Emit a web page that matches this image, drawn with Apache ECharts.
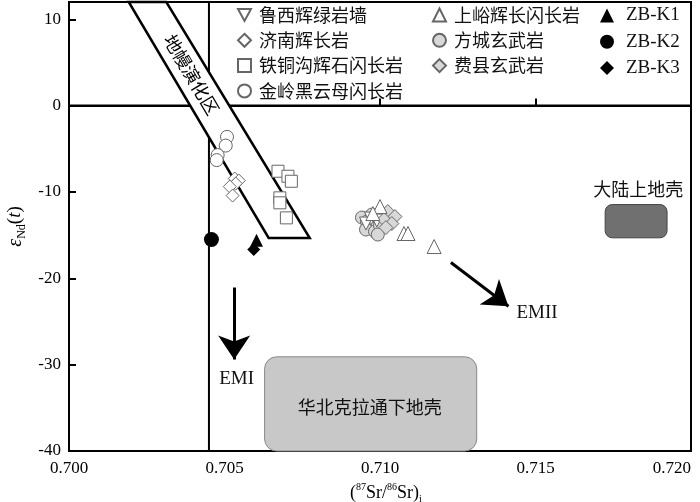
<!DOCTYPE html>
<html>
<head>
<meta charset="utf-8">
<script src="https://cdn.jsdelivr.net/npm/echarts@6/dist/echarts.min.js"></script>
<style>
html, body { margin: 0; padding: 0; background: #fff; }
#main { width: 700px; height: 502px; }
</style>
</head>
<body>
<div id="main"></div>
<script>
// 坐标轴范围 / 刻度
var xTicks = [0.700, 0.705, 0.710, 0.715, 0.720];
var yTicks = [-40, -30, -20, -10, 0, 10];
var yTop = 12;

// 各岩体数据 [87Sr/86Sr, εNd(t)]
var luxiDyke = [[0.70971, -13.08], [0.70990, -13.31], [0.70955, -13.66]];          // 鲁西辉绿岩墙
var jinanGabbro = [[0.70533, -8.45], [0.70546, -8.68], [0.70536, -9.03], [0.70517, -9.38], [0.70526, -10.42]]; // 济南辉长岩
var tietonggou = [[0.70672, -7.60], [0.70704, -8.18], [0.70715, -8.76], [0.70678, -10.68], [0.70678, -11.26], [0.70699, -13.0]]; // 铁铜沟
var jinling = [[0.70508, -3.62], [0.70504, -4.63], [0.70478, -5.73], [0.70475, -6.31]]; // 金岭
var shangyu = [[0.71000, -11.69], [0.70977, -12.50], [0.71077, -14.81], [0.71090, -14.81], [0.71174, -16.32]]; // 上峪
var fangcheng = [[0.70942, -12.96], [0.70974, -12.62], [0.70958, -13.43], [0.70967, -14.12], [0.70955, -14.35], [0.70984, -14.58], [0.71000, -13.89], [0.70993, -14.93]]; // 方城
var feixian = [[0.71025, -12.27], [0.71048, -12.85], [0.71013, -13.19], [0.71038, -13.66], [0.71019, -14.12]]; // 费县
var zbk1 = [[0.70603, -15.59]];
var zbk2 = [[0.70458, -15.51]];
var zbk3 = [[0.70594, -16.67]];

// 辅助线、地幔演化区、端元
var vLine = [[0.7045, -40], [0.7045, 12]];
var zeroLine = [[0.700, 0], [0.720, 0]];
var bandCorners = [[0.70192, 12], [0.70313, 12], [0.70774, -15.33], [0.70642, -15.33]];
var bandLabel = [[0.70394, 3.59]];
var crustBoxes = [[0.70629, -29.09, 0.71311, -40], [0.71724, -11.46, 0.71923, -15.31]];
var annoPos = [[0.70967, -34.9], [0.71830, -9.66], [0.70539, -31.66], [0.71505, -24.02]];
var annoText = ['华北克拉通下地壳', '大陆上地壳', 'EMI', 'EMII'];
var arrows = [[[0.70531, -21.06], [0.70531, -29.4]], [[0.71228, -18.17], [0.71413, -23.23]]];

var cjk = 'Noto Sans CJK SC';
var serif = 'Liberation Serif';
var hollow = { color: '#fff', borderColor: '#666', borderWidth: 1, opacity: 1 };
var grey = { color: '#d8d8d8', borderColor: '#666', borderWidth: 1, opacity: 1 };
var black = { color: '#000', opacity: 1 };

function renderBand(params, api) {
	var pts = bandCorners.map(function (p) { return api.coord(p); });
	var c = api.coord([api.value(0), api.value(1)]);
	var ang = Math.atan2(pts[3][1] - pts[0][1], pts[3][0] - pts[0][0]);
	return {
		type: 'group',
		children: [{
			type: 'polygon',
			shape: { points: pts },
			style: { fill: '#fff', stroke: '#000', lineWidth: 2.5 }
		}, {
			type: 'text',
			x: c[0], y: c[1],
			rotation: -ang,
			style: { text: '地幔演化区', font: '18px "' + cjk + '"', fill: '#000', align: 'center', verticalAlign: 'middle' }
		}]
	};
}

function renderBox(params, api) {
	var p1 = api.coord([api.value(0), api.value(1)]);
	var p2 = api.coord([api.value(2), api.value(3)]);
	var fills = ['#c8c8c8', '#707070'];
	var strokes = ['#888', '#444'];
	var radius = [12, 7];
	var i = params.dataIndex;
	return {
		type: 'rect',
		shape: { x: p1[0], y: p1[1], width: p2[0] - p1[0], height: p2[1] - p1[1], r: radius[i] },
		style: { fill: fills[i], stroke: strokes[i], lineWidth: 1 }
	};
}

function renderAnno(params, api) {
	var c = api.coord([api.value(0), api.value(1)]);
	var i = params.dataIndex;
	var f = i < 2 ? '18px "' + cjk + '"' : '19px "' + serif + '"';
	return {
		type: 'text', x: c[0], y: c[1],
		style: { text: annoText[i], font: f, fill: '#111', align: 'center', verticalAlign: 'middle' }
	};
}

var myChart = echarts.init(document.getElementById('main'));

var legendText = { fontFamily: cjk, fontSize: 18, color: '#111', lineHeight: 16, padding: [0, 0, 0, 3] };

var option = {
	animation: false,
	grid: {
		left: 69, right: 9, top: 2, bottom: 51, outerBoundsMode: 'none', containLabel: false,
		show: true, borderColor: '#000', borderWidth: 2
	},
	legend: [{
		data: [{ name: '鲁西辉绿岩墙', icon: 'path://M0,0 L12,0 L6,11 Z' }, '济南辉长岩', '铁铜沟辉石闪长岩', '金岭黑云母闪长岩'],
		orient: 'vertical', left: 237, top: 6, padding: 0, itemGap: 7.3,
		itemWidth: 13, itemHeight: 13, textStyle: legendText
	}, {
		data: ['上峪辉长闪长岩', '方城玄武岩', '费县玄武岩'],
		orient: 'vertical', left: 432, top: 6, padding: 0, itemGap: 7.3,
		itemWidth: 13, itemHeight: 13, textStyle: legendText
	}, {
		data: ['ZB-K1', 'ZB-K2', 'ZB-K3'],
		orient: 'vertical', left: 600, top: 6, padding: 0, itemGap: 7.3,
		itemWidth: 14, itemHeight: 14,
		textStyle: { fontFamily: serif, fontSize: 19, color: '#111', lineHeight: 16, padding: [0, 0, 0, 7] }
	}],
	xAxis: {
		type: 'value',
		min: xTicks[0], max: xTicks[xTicks.length - 1], interval: xTicks[1] - xTicks[0],
		name: '({sup|87}Sr/{sup|86}Sr){sub|i}',
		nameLocation: 'middle', nameGap: 27,
		nameTextStyle: {
			fontFamily: serif, fontSize: 18, color: '#000', lineHeight: 22, padding: [0, 0, 0, 12],
			rich: {
				sup: { fontFamily: serif, fontSize: 10, color: '#000', verticalAlign: 'top', lineHeight: 10 },
				sub: { fontFamily: serif, fontSize: 10, color: '#000', verticalAlign: 'bottom', lineHeight: 10 }
			}
		},
		axisLine: { lineStyle: { color: '#000', width: 2 } },
		axisTick: { inside: true, length: 7, lineStyle: { color: '#000', width: 2 } },
		axisLabel: {
			fontFamily: serif, fontSize: 17, color: '#000', margin: 9, alignMaxLabel: 'right',
			formatter: function (v) { return v.toFixed(3); }
		},
		splitLine: { show: false }
	},
	yAxis: {
		type: 'value',
		min: yTicks[0], max: yTop, interval: yTicks[1] - yTicks[0],
		name: '{e|ε}{sub|Nd}({i|t})',
		nameLocation: 'middle', nameRotate: 90, nameGap: 36,
		nameTextStyle: {
			fontFamily: serif, fontSize: 19, color: '#000', lineHeight: 24,
			rich: {
				e: { fontFamily: serif, fontSize: 20, fontStyle: 'italic', color: '#000', lineHeight: 24 },
				sub: { fontFamily: serif, fontSize: 12, color: '#000', verticalAlign: 'bottom', lineHeight: 12 },
				i: { fontFamily: serif, fontSize: 19, fontStyle: 'italic', color: '#000', lineHeight: 24 }
			}
		},
		axisLine: { lineStyle: { color: '#000', width: 2 } },
		axisTick: { inside: true, length: 7, lineStyle: { color: '#000', width: 2 } },
		axisLabel: { fontFamily: serif, fontSize: 17, color: '#000', margin: 8, showMaxLabel: false },
		splitLine: { show: false }
	},
	series: [{
		type: 'line', data: vLine, symbol: 'none', silent: true,
		lineStyle: { color: '#000', width: 2 }, z: 1
	}, {
		type: 'line', data: zeroLine, symbol: 'none', silent: true,
		lineStyle: { color: '#000', width: 2 }, z: 1
	}, {
		type: 'custom', renderItem: renderBand, data: bandLabel, silent: true, z: 2
	}, {
		type: 'custom', renderItem: renderBox, data: crustBoxes, silent: true, z: 2
	}, {
		type: 'custom', renderItem: renderAnno, data: annoPos, silent: true, z: 2
	}, {
		type: 'lines', coordinateSystem: 'cartesian2d', silent: true, z: 3,
		symbol: ['none', 'arrow'], symbolSize: [17, 24],
		lineStyle: { color: '#000', width: 3, opacity: 1 },
		data: arrows.map(function (a) { return { coords: a }; })
	}, {
		name: '金岭黑云母闪长岩', type: 'scatter', symbol: 'circle', symbolSize: 13, itemStyle: hollow, data: jinling, z: 5
	}, {
		name: '济南辉长岩', type: 'scatter', symbol: 'diamond', symbolSize: 13, itemStyle: hollow, data: jinanGabbro, z: 5
	}, {
		name: '铁铜沟辉石闪长岩', type: 'scatter', symbol: 'rect', symbolSize: 12, itemStyle: hollow, data: tietonggou, z: 5
	}, {
		name: '方城玄武岩', type: 'scatter', symbol: 'circle', symbolSize: 13, itemStyle: grey, data: fangcheng, z: 5
	}, {
		name: '鲁西辉绿岩墙', type: 'scatter', symbol: 'triangle', symbolRotate: 180, symbolSize: 13, itemStyle: hollow, data: luxiDyke, z: 5
	}, {
		name: '费县玄武岩', type: 'scatter', symbol: 'diamond', symbolSize: 14, itemStyle: grey, data: feixian, z: 5
	}, {
		name: '上峪辉长闪长岩', type: 'scatter', symbol: 'triangle', symbolSize: 14, itemStyle: hollow, data: shangyu, z: 5
	}, {
		name: 'ZB-K1', type: 'scatter', symbol: 'triangle', symbolSize: 13, itemStyle: black, data: zbk1, z: 5
	}, {
		name: 'ZB-K2', type: 'scatter', symbol: 'circle', symbolSize: 15, itemStyle: black, data: zbk2, z: 5
	}, {
		name: 'ZB-K3', type: 'scatter', symbol: 'diamond', symbolSize: 13, itemStyle: black, data: zbk3, z: 5
	}]
};

myChart.setOption(option);
</script>
</body>
</html>
